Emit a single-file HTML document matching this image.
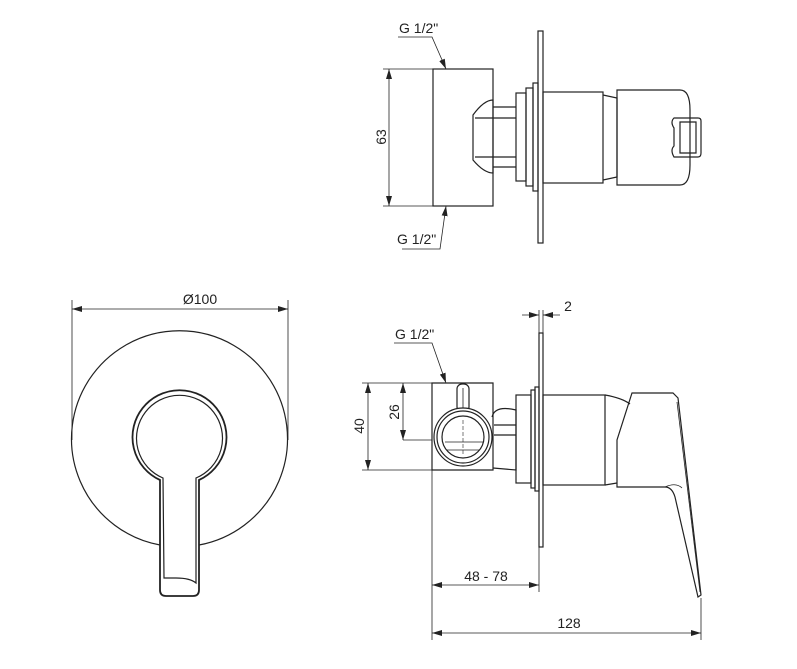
<!DOCTYPE html>
<html><head><style>html,body{margin:0;padding:0;background:#fff}svg{display:block}text{font-family:"Liberation Sans",sans-serif;font-size:14px;fill:#222}</style></head>
<body>
<svg width="797" height="669" viewBox="0 0 797 669" xmlns="http://www.w3.org/2000/svg">
<defs>
<marker id="a" viewBox="0 0 10 6" refX="10" refY="3" markerWidth="10" markerHeight="6" orient="auto-start-reverse" markerUnits="userSpaceOnUse"><path d="M0,0 L10,3 L0,6z" fill="#222"/></marker>
</defs>
<g fill="none" stroke="#222" stroke-width="1.2">
<!-- FRONT VIEW -->
<line x1="72" y1="300" x2="72" y2="440" stroke-width="0.8"/>
<line x1="288" y1="300" x2="288" y2="440" stroke-width="0.8"/>
<line x1="72" y1="309" x2="288" y2="309" stroke-width="0.8" marker-start="url(#a)" marker-end="url(#a)"/>
<path d="M160,545 A108,108 0 1 1 199,545"/>
<path d="M160,480 A47,47 0 1 1 199,480 L199,590 Q199,596 193,596 L166,596 Q160,596 160,590 Z" stroke-width="1.8"/>
<path d="M163,478 A43,43 0 1 1 196,478 L196,583 Q190,578 176,578 L164,578 Z"/>
<!-- TOP SIDE VIEW -->
<rect x="433" y="69" width="60" height="137"/>
<line x1="383" y1="69" x2="433" y2="69" stroke-width="0.8"/>
<line x1="383" y1="206" x2="433" y2="206" stroke-width="0.8"/>
<line x1="389" y1="69" x2="389" y2="206" stroke-width="0.8" marker-start="url(#a)" marker-end="url(#a)"/>
<polyline points="398,37 432,37 446,69" stroke-width="0.8" marker-end="url(#a)"/>
<polyline points="402,249 440,249 446,206" stroke-width="0.8" marker-end="url(#a)"/>
<path d="M493,100 Q484,100 473,115 L473,160 Q484,173 493,173 Z"/>
<line x1="493" y1="107" x2="516" y2="107"/><line x1="493" y1="167" x2="516" y2="167"/>
<line x1="475" y1="118" x2="516" y2="118"/><line x1="475" y1="157" x2="516" y2="157"/>
<rect x="516" y="93" width="10" height="88"/>
<rect x="526" y="88" width="7" height="98"/>
<rect x="533" y="83" width="5" height="108"/>
<rect x="538" y="31" width="5" height="212"/>
<rect x="543" y="92" width="60" height="91"/>
<path d="M603,95 L617,98 L617,177 L603,180"/>
<path d="M617,90 L680,90 Q690,90 690,110 L690,165 Q690,185 680,185 L617,185 Z"/>
<path d="M674,118 L698,118 Q701,118 701,121 L701,153 Q701,157 698,157 L674,157 Q670,150 674,146 L674,128 Q670,122 674,118 Z"/>
<path d="M680,122 L696,122 L696,153 L680,153 Z"/>
<!-- BOTTOM SIDE VIEW -->
<line x1="522" y1="315" x2="539" y2="315" stroke-width="0.8" marker-end="url(#a)"/>
<line x1="560" y1="315" x2="543" y2="315" stroke-width="0.8" marker-end="url(#a)"/>
<line x1="539" y1="310" x2="539" y2="333" stroke-width="0.8"/>
<line x1="543" y1="310" x2="543" y2="333" stroke-width="0.8"/>
<polyline points="394,343 432,343 446,383" stroke-width="0.8" marker-end="url(#a)"/>
<path d="M432,470 L432,383 L493,383 L493,470 Z"/>
<line x1="362" y1="383" x2="432" y2="383" stroke-width="0.8"/>
<line x1="362" y1="470" x2="432" y2="470" stroke-width="0.8"/>
<line x1="403" y1="440" x2="432" y2="440" stroke-width="0.8"/>
<line x1="368" y1="383" x2="368" y2="470" stroke-width="0.8" marker-start="url(#a)" marker-end="url(#a)"/>
<line x1="403" y1="383" x2="403" y2="440" stroke-width="0.8" marker-start="url(#a)" marker-end="url(#a)"/>
<rect x="457" y="384" width="12" height="28" rx="5" fill="#fff"/>
<line x1="463" y1="388" x2="463" y2="410" stroke-width="0.8"/>
<circle cx="463" cy="437" r="29" fill="#fff"/>
<circle cx="463" cy="437" r="26"/>
<circle cx="463" cy="437" r="21"/>
<line x1="463" y1="420" x2="463" y2="455" stroke-width="0.6" stroke-dasharray="4,2"/>
<line x1="445" y1="442" x2="484" y2="442" stroke-width="0.8"/>
<line x1="447" y1="450" x2="480" y2="450" stroke-width="0.8"/>
<path d="M492,417 Q495,405 516,410 L516,470 L493,468"/>
<line x1="494" y1="425" x2="516" y2="425"/><line x1="494" y1="435" x2="516" y2="435"/>
<rect x="516" y="395" width="15" height="88"/>
<rect x="531" y="390" width="4" height="98"/>
<rect x="535" y="387" width="4" height="104"/>
<rect x="539" y="333" width="4" height="214"/>
<rect x="543" y="395" width="62" height="90"/>
<path d="M605,395 Q622,398 630,404"/>
<path d="M605,485 L617,483"/>
<path d="M632,393 L673,393 L678,398 L701,595 L698,597 L675,497 Q672,487 665,487 L617,487 L617,440 Z"/>
<path d="M677,402 L700,592" stroke-width="0.8"/>
<path d="M665,487 Q676,482 682,488" stroke-width="0.8"/>
<line x1="432" y1="470" x2="432" y2="640" stroke-width="0.8"/>
<line x1="539" y1="547" x2="539" y2="592" stroke-width="0.8"/>
<line x1="701" y1="598" x2="701" y2="640" stroke-width="0.8"/>
<line x1="432" y1="585" x2="539" y2="585" stroke-width="0.8" marker-start="url(#a)" marker-end="url(#a)"/>
<line x1="432" y1="633" x2="701" y2="633" stroke-width="0.8" marker-start="url(#a)" marker-end="url(#a)"/>
</g>
<text x="399" y="33">G 1/2"</text>
<text x="397" y="244">G 1/2"</text>
<text x="386" y="137" transform="rotate(-90 386 137)" text-anchor="middle">63</text>
<text x="200" y="304" text-anchor="middle">Ø100</text>
<text x="395" y="339">G 1/2"</text>
<text x="568" y="311" text-anchor="middle">2</text>
<text x="364" y="426" transform="rotate(-90 364 426)" text-anchor="middle">40</text>
<text x="399" y="412" transform="rotate(-90 399 412)" text-anchor="middle">26</text>
<text x="486" y="581" text-anchor="middle">48 - 78</text>
<text x="569" y="628" text-anchor="middle">128</text>
</svg>
</body></html>
